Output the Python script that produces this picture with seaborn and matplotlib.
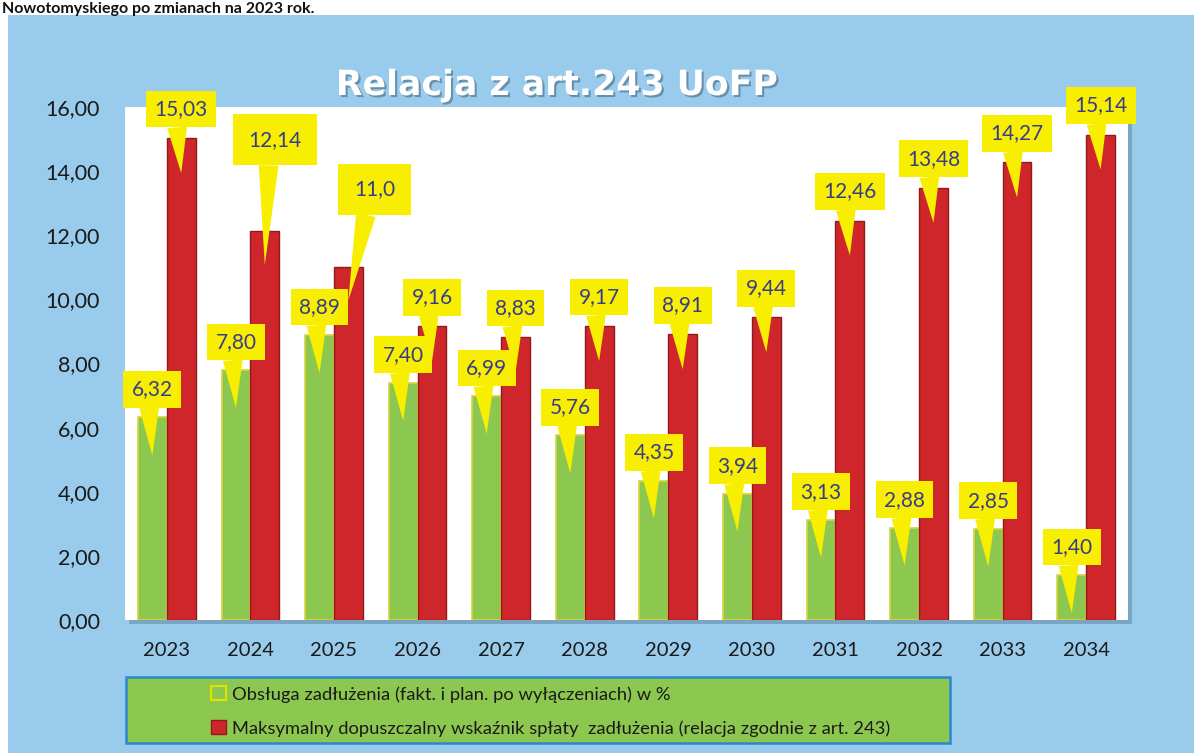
import seaborn as sns
import pandas as pd
import matplotlib.pyplot as plt
import matplotlib.patheffects as pe
from matplotlib.patches import Rectangle, Patch
from matplotlib.ticker import FuncFormatter
from matplotlib.transforms import offset_copy

# Data
years = ['2023', '2024', '2025', '2026', '2027', '2028', '2029', '2030', '2031', '2032', '2033', '2034']
obsluga = [6.32, 7.80, 8.89, 7.40, 6.99, 5.76, 4.35, 3.94, 3.13, 2.88, 2.85, 1.40]
maks = [15.03, 12.14, 11.0, 9.16, 8.83, 9.17, 8.91, 9.44, 12.46, 13.48, 14.27, 15.14]
obsluga_labels = ['6,32', '7,80', '8,89', '7,40', '6,99', '5,76', '4,35', '3,94', '3,13', '2,88', '2,85', '1,40']
maks_labels = ['15,03', '12,14', '11,0', '9,16', '8,83', '9,17', '8,91', '9,44', '12,46', '13,48', '14,27', '15,14']
series_names = ['Obsługa zadłużenia (fakt. i plan. po wyłączeniach) w %',
                'Maksymalny dopuszczalny wskaźnik spłaty  zadłużenia (relacja zgodnie z art. 243)']

GREEN = '#8CC850'
RED = '#CF262B'
YELLOW = '#F8EE00'
BLUE_BG = '#98CBEC'
NAVY = '#383C8C'

df = pd.DataFrame({
    'rok': years * 2,
    'wartosc': obsluga + maks,
    'seria': [series_names[0]] * len(years) + [series_names[1]] * len(years),
})

plt.rcParams['font.family'] = ['Lato', 'DejaVu Sans']

W, H = 1194, 753
fig = plt.figure(figsize=(W / 100, H / 100), dpi=100, facecolor='white')

# Blue panel behind everything
fig.patches.append(Rectangle((8 / W, 0), 1, (H - 15) / H, transform=fig.transFigure,
                             facecolor=BLUE_BG, edgecolor='none', zorder=0))

# Heading left over at the top of the scan
fig.text(2 / W, 1 - 13 / H, 'Nowotomyskiego po zmianach na 2023 rok.', fontsize=11.5,
         fontweight='bold', color='#111111', va='baseline', ha='left')

# Plot area (white) with a small shadow
ax_l, ax_r, ax_t, ax_b = 125, 1128, 107, 620
fig.patches.append(Rectangle(((ax_l + 4) / W, (H - ax_b - 4) / H), (ax_r - ax_l) / W, (ax_b - ax_t) / H,
                             transform=fig.transFigure, facecolor='#7aa6c4', edgecolor='none', zorder=1))
ax = fig.add_axes([ax_l / W, (H - ax_b) / H, (ax_r - ax_l) / W, (ax_b - ax_t) / H])
ax.set_zorder(2)
ax.set_facecolor('white')

sns.barplot(data=df, x='rok', y='wartosc', hue='seria', palette=[GREEN, RED],
            width=0.69, gap=0, saturation=1, legend=False, ax=ax)

for bar in ax.containers[0]:
    bar.set_edgecolor('#D8D43A')
    bar.set_linewidth(1.2)
for bar in ax.containers[1]:
    bar.set_edgecolor('#8E1A1C')
    bar.set_linewidth(1.0)

ax.set_ylim(0, 16)
ax.set_xlim(-0.5, len(years) - 0.5)
ax.set_yticks(range(0, 17, 2))
ax.yaxis.set_major_formatter(FuncFormatter(lambda v, p: f'{v:.2f}'.replace('.', ',')))
ax.tick_params(axis='y', length=0, pad=18, labelsize=15.5, labelcolor='#1a1a1a')
ax.tick_params(axis='x', length=0, pad=16, labelsize=14.5, labelcolor='#1a1a1a')
ax.set_xlabel('')
ax.set_ylabel('')
for s in ax.spines.values():
    s.set_visible(False)

# Yellow callout labels
# default: (dx, dy) from tip to box centre in pixels, tip drop below bar top in pixels
defaults = [(0, 66, 38), (0, 64, 35)]
special = {(1, 1): (10, 125, 34, 0.75), (1, 2): (26, 111, 33, 0.75)}
for si, (container, labels) in enumerate([(ax.containers[0], obsluga_labels), (ax.containers[1], maks_labels)]):
    for i, (bar, lab) in enumerate(zip(container, labels)):
        xc = bar.get_x() + bar.get_width() / 2
        top = bar.get_height()
        dx, dy, drop = defaults[si]
        pad = 0.4
        if (si, i) in special:
            dx, dy, drop, pad = special[(si, i)]
        tip_tr = offset_copy(ax.transData, fig=fig, x=0, y=-drop, units='dots')
        ax.annotate(lab, xy=(xc, top), xycoords=tip_tr,
                    xytext=(dx, dy), textcoords='offset pixels',
                    ha='center', va='center', fontsize=15, color=NAVY, zorder=5,
                    bbox=dict(boxstyle=f'square,pad={pad}', fc=YELLOW, ec='none'),
                    arrowprops=dict(arrowstyle='wedge,tail_width=0.95,shrink_factor=0.5',
                                    fc=YELLOW, ec='none', shrinkA=0, shrinkB=0,
                                    relpos=(0.4, 0.3)))

# Title
fig.text(557 / W, 1 - 95 / H, 'Relacja z art.243 UoFP', ha='center', va='baseline',
         fontsize=25, fontweight='bold', family=['DejaVu Sans'], color='white',
         path_effects=[pe.SimplePatchShadow(offset=(1.5, -1.5), shadow_rgbFace='#4a6a80', alpha=0.6),
                       pe.Normal()], zorder=3)

# Legend box
fig.patches.append(Rectangle((126 / W, (H - 743) / H), (950 - 126) / W, (743 - 677) / H,
                             transform=fig.transFigure, facecolor=GREEN, edgecolor='#2A88CF',
                             linewidth=1.8, zorder=1))
handles = [Patch(facecolor=GREEN, edgecolor='#E6E000', linewidth=1.5),
           Patch(facecolor=RED, edgecolor='#8E1A1C', linewidth=1.0)]
fig.legend(handles, series_names, loc='upper left', bbox_to_anchor=(211 / W, 1 - 686 / H),
           frameon=False, fontsize=13.2, handlelength=0.8, handleheight=0.8,
           handletextpad=0.35, labelspacing=0.95, borderpad=0, borderaxespad=0,
           labelcolor='#1a1a1a')

plt.savefig('out.png', dpi=100, facecolor='white')
